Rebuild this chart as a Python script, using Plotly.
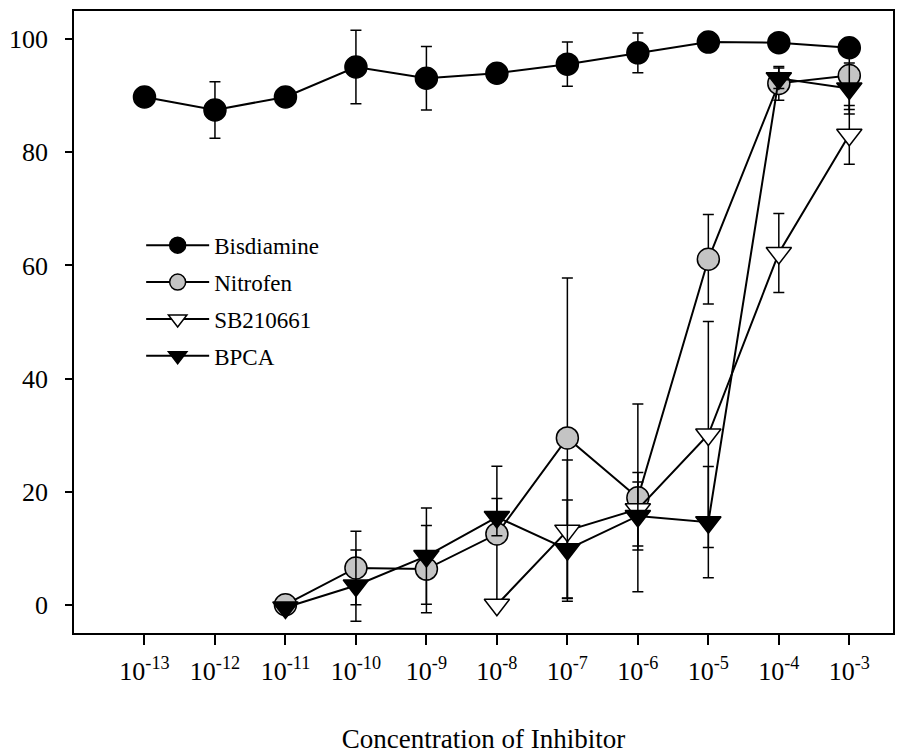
import plotly.graph_objects as go

# ---- data (log10 concentration exponents) ----
exp_all = [-13, -12, -11, -10, -9, -8, -7, -6, -5, -4, -3]
tick_labels = ["10<sup>%d</sup>" % e for e in exp_all]

bis_exp = [-13, -12, -11, -10, -9, -8, -7, -6, -5, -4, -3]
bis_val = [89.8, 87.5, 89.8, 95.1, 93.1, 94.0, 95.6, 97.6, 99.5, 99.4, 98.5]
bis_err = [0, 5.0, 0, 6.5, 5.6, 1.5, 3.9, 3.5, 0, 0, 0]

nit_exp = [-11, -10, -9, -8, -7, -6, -5, -4, -3]
nit_val = [0.0, 6.5, 6.3, 12.5, 29.5, 18.9, 61.1, 92.2, 93.6]
nit_err = [0, 6.5, 7.7, 12.0, 28.3, 16.6, 7.9, 3.0, 6.0]

sb_exp = [-8, -7, -6, -5, -4, -3]
sb_val = [0.0, 13.1, 16.9, 30.1, 62.2, 83.1]
sb_err = [0, 12.5, 6.5, 20.0, 7.0, 5.2]

bp_exp = [-11, -10, -9, -8, -7, -6, -5, -4, -3]
bp_val = [-0.5, 3.4, 8.6, 15.5, 9.8, 15.7, 14.6, 93.1, 91.3]
bp_err = [0, 6.3, 8.5, 3.3, 8.7, 6.0, 9.85, 1.8, 4.5]

series = [
    ("Bisdiamine", bis_exp, bis_val, bis_err, "circle", "black"),
    ("Nitrofen", nit_exp, nit_val, nit_err, "circle", "#c4c4c4"),
    ("SB210661", sb_exp, sb_val, sb_err, "triangle-down", "white"),
    ("BPCA", bp_exp, bp_val, bp_err, "triangle-down", "black"),
]

FONT = "Liberation Serif"

fig = go.Figure()
for i, (name, ex, val, err, sym, fill) in enumerate(series):
    fig.add_trace(go.Scatter(
        x=[10.0 ** e for e in ex], y=val, name=name, legendgroup=name,
        mode="lines+markers",
        line=dict(color="black", width=2),
        marker=dict(symbol=sym, size=22, color=fill,
                    line=dict(color="black", width=1.5)),
        error_y=dict(type="data", array=err, visible=True,
                     color="black", thickness=1.5, width=5.5),
    ))

fig.update_layout(
    width=909, height=754,
    margin=dict(l=74, r=16, t=11, b=121),
    plot_bgcolor="white", paper_bgcolor="white",
    font=dict(family=FONT, color="black", size=26),
    showlegend=True,
    legend=dict(x=0.082, y=0.658, xanchor="left", yanchor="top",
                font=dict(size=23, family=FONT), bgcolor="rgba(0,0,0,0)",
                tracegroupgap=4, itemwidth=63),
    xaxis=dict(type="log", range=[-14, -2.38], automargin=False,
               tickvals=[10.0 ** e for e in exp_all], ticktext=tick_labels,
               ticks="outside", ticklen=10, tickwidth=1.5, tickcolor="black",
               showline=True, linecolor="black", linewidth=1.5, mirror=True,
               showgrid=False, zeroline=False,
               tickfont=dict(size=26, family=FONT), ticklabelstandoff=4,
               title=dict(text="Concentration of Inhibitor",
                          font=dict(size=27, family=FONT), standoff=48)),
    yaxis=dict(range=[-5, 105], tickvals=[0, 20, 40, 60, 80, 100],
               automargin=False,
               ticks="outside", ticklen=7, tickwidth=1.5, tickcolor="black",
               showline=True, linecolor="black", linewidth=1.5, mirror=True,
               showgrid=False, zeroline=False,
               tickfont=dict(size=26, family=FONT), ticklabelstandoff=12),
)

fig.write_html("out.html", config={"displayModeBar": False},
               post_script="document.body.style.margin='0';")
